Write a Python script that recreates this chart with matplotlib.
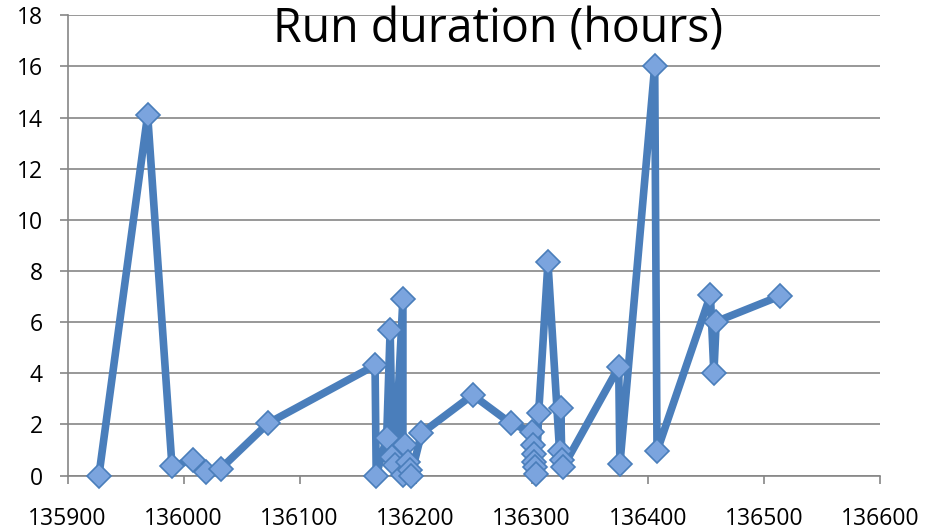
import matplotlib
matplotlib.use("Agg")
import matplotlib.pyplot as plt
from matplotlib.ticker import MultipleLocator

run_number = [135927, 135969, 135990, 136008, 136019, 136032, 136073,
              136165, 136166, 136175, 136178, 136180, 136182, 136189, 136189,
              136191, 136193, 136195, 136196, 136205, 136249, 136282,
              136300, 136301, 136302, 136302, 136303, 136304, 136306, 136314,
              136324, 136325, 136326, 136327, 136375, 136376, 136406, 136408,
              136454, 136457, 136459, 136514]
duration_hours = [0.0, 14.1, 0.36, 0.62, 0.13, 0.27, 2.05,
                  4.31, 0.0, 1.48, 5.7, 0.74, 0.41, 6.92, 0.02,
                  1.19, 0.54, 0.22, 0.0, 1.65, 3.15, 2.04,
                  1.71, 1.19, 0.84, 0.54, 0.32, 0.05, 2.46, 8.33,
                  0.97, 2.63, 0.61, 0.32, 4.24, 0.44, 16.0, 0.95,
                  7.05, 4.01, 6.02, 7.02]
title = "Run duration (hours)"

plt.rcParams['font.family'] = ['Open Sans', 'DejaVu Sans']

fig = plt.figure(figsize=(9.32, 5.30), dpi=100)
ax = fig.add_axes([0.0725, 0.1028, 0.8715, 0.8685])

line_c = '#4a7ebb'
ax.plot(run_number, duration_hours, color=line_c, lw=5.5, solid_joinstyle='round',
        solid_capstyle='round', zorder=3, clip_on=False)
ax.plot(run_number, duration_hours, ls='none', marker='D', ms=12.5,
        mfc='#7ba4de', mec='#4a7ebb', mew=1.2, zorder=4, clip_on=False)

ax.set_xlim(135900, 136600)
ax.set_ylim(0, 18)
ax.xaxis.set_major_locator(MultipleLocator(100))
ax.yaxis.set_major_locator(MultipleLocator(2))
ax.grid(axis='y', color='#868686', lw=1.2, zorder=0)
ax.grid(axis='x', visible=False)
for s in ['top', 'right']:
    ax.spines[s].set_visible(False)
for s in ['left', 'bottom']:
    ax.spines[s].set_color('#868686')
    ax.spines[s].set_linewidth(1.2)
ax.tick_params(axis='both', direction='out', length=6, width=1.2, color='#868686',
               labelsize=16.5, labelcolor='black')
ax.tick_params(axis='y', pad=12)
ax.tick_params(axis='x', pad=17)
ax.set_axisbelow(True)

fig.text(498 / 932, 1 - 30 / 530, title, ha='center', va='center', fontsize=33.5,
         color='black')

fig.savefig('out.png', dpi=100)
